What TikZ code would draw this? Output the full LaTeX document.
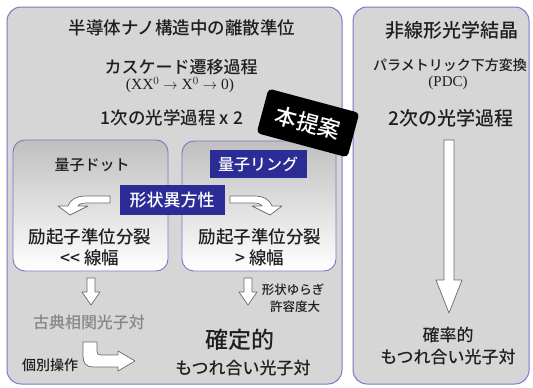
\documentclass[tikz,border=0pt]{standalone}
\usepackage{fontspec}
\setmainfont{Noto Sans CJK JP}[UprightFont={* Medium}]
\newfontfamily\serifface{Liberation Serif}
\definecolor{panelfill}{RGB}{214,214,214}
\definecolor{panelline}{RGB}{120,120,200}
\definecolor{labelblue}{RGB}{44,44,150}
\definecolor{arrowline}{RGB}{105,105,105}
\definecolor{txtgray}{RGB}{135,135,135}
\newcommand\fs[1]{\fontsize{#1}{#1}\selectfont}
\begin{document}
\begin{tikzpicture}[x=1pt,y=-1pt,
  panel/.style={draw=panelline, line width=1pt, fill=panelfill, rounded corners=14pt},
  innerbox/.style={draw=panelline, line width=0.9pt, rounded corners=12pt, top color=black!25, bottom color=white},
  bluelabel/.style={fill=labelblue, text=white, inner sep=0pt, anchor=center},
  hollow/.style={draw=arrowline, fill=white, line width=0.7pt, line join=round},
  txt/.style={inner sep=0pt, anchor=center, text=black!88},
  downblock/.pic={\draw[hollow] (-4,0) -- (4,0) -- (4,14) -- (9,14) -- (0,27) -- (-9,14) -- (-4,14) -- cycle;}
]
\useasboundingbox (0,0) rectangle (533,388);
% panels
\draw[panel] (7,7) rectangle (342,384);
\draw[panel] (353,7) rectangle (529,384);
% inner boxes
\draw[innerbox] (13,140) rectangle (168,271);
\draw[innerbox] (182,141) rectangle (336,271);

% left panel texts
\node[txt] (title) at (182,28) {\fs{17.5}半導体ナノ構造中の離散準位};
\node[txt] (cascade) at (181,67) {\fs{17}カスケード遷移過程};
\node[txt] (formula) at (180,85) {\serifface\fs{15.5}(XX$^0\rightarrow$ X$^0\rightarrow$ 0)};
\node[txt] (first) at (172,118) {\fs{17.5}1次の光学過程 x 2};
\node[txt] (dot) at (92,165) {\fs{15}量子ドット};
\node[bluelabel, minimum width=97pt, minimum height=28pt] (ring) at (258,164) {\fs{16}量子リング};
\node[txt] (splitL) at (90,237) {\fs{17.5}励起子準位分裂};
\node[txt] (widthL) at (90,258) {\fs{17.5}<\kern0pt< 線幅};
\node[txt] (splitR) at (260,237) {\fs{17.5}励起子準位分裂};
\node[txt] (widthR) at (260,258) {\fs{17.5}> 線幅};
\node[txt, text=txtgray] (classic) at (89,322) {\fs{16}古典相関光子対};
\node[txt] (fluct1) at (293,290) {\fs{12.5}形状ゆらぎ};
\node[txt] (fluct2) at (295,307) {\fs{12.5}許容度大};
\node[txt] (determ) at (240,340) {\fs{23}確定的};
\node[txt] (entL) at (243,368) {\fs{17}もつれ合い光子対};
\node[txt] (indiv) at (50,365) {\fs{14}個別操作};

% right panel texts
\node[txt] (crystal) at (452,30) {\fs{19}非線形光学結晶};
\node[txt] (param) at (450,65) {\fs{14}パラメトリック下方変換};
\node[txt] (pdc) at (448,83) {\serifface\fs{15}(PDC)};
\node[txt] (second) at (451,118) {\fs{19}2次の光学過程};
\node[txt] (prob) at (448,335) {\fs{17}確率的};
\node[txt] (entR) at (448,357) {\fs{17}もつれ合い光子対};

% turn arrows
\draw[hollow] (110,196) -- (86,196) .. controls (76,196) and (70,200) .. (68,206) -- (58,206) -- (70,215) -- (88,206) -- (78,206) .. controls (79,204) and (82,203) .. (87,203) -- (110,203) -- cycle;
\begin{scope}[shift={(340,0)}, xscale=-1]
\draw[hollow] (110,196) -- (86,196) .. controls (76,196) and (70,200) .. (68,206) -- (58,206) -- (70,215) -- (88,206) -- (78,206) .. controls (79,204) and (82,203) .. (87,203) -- (110,203) -- cycle;
\end{scope}
\node[bluelabel, minimum width=105pt, minimum height=30pt] (aniso) at (172,200) {\fs{17}形状異方性};

% down arrows
\pic at (91,278) {downblock};
\pic at (248,278) {downblock};
\draw[hollow] (444,140) -- (454,140) -- (454,280) -- (462,280) -- (449,313) -- (436,280) -- (444,280) -- cycle;

% L-shaped arrow
\draw[hollow] (83,342) -- (97,342) -- (97,351) .. controls (97,354) and (98,355) .. (101,355) -- (118,355) -- (118,351) -- (135,361) -- (118,371) -- (118,367) -- (93,367) .. controls (86,367) and (83,363) .. (83,356) -- cycle;

% proposal flag
\node[fill=black, text=white, rotate=-15, minimum width=94pt, minimum height=46pt, inner sep=0pt, rounded corners=4pt] (flag) at (308,123) {\fs{22}本提案};
\end{tikzpicture}
\end{document}
